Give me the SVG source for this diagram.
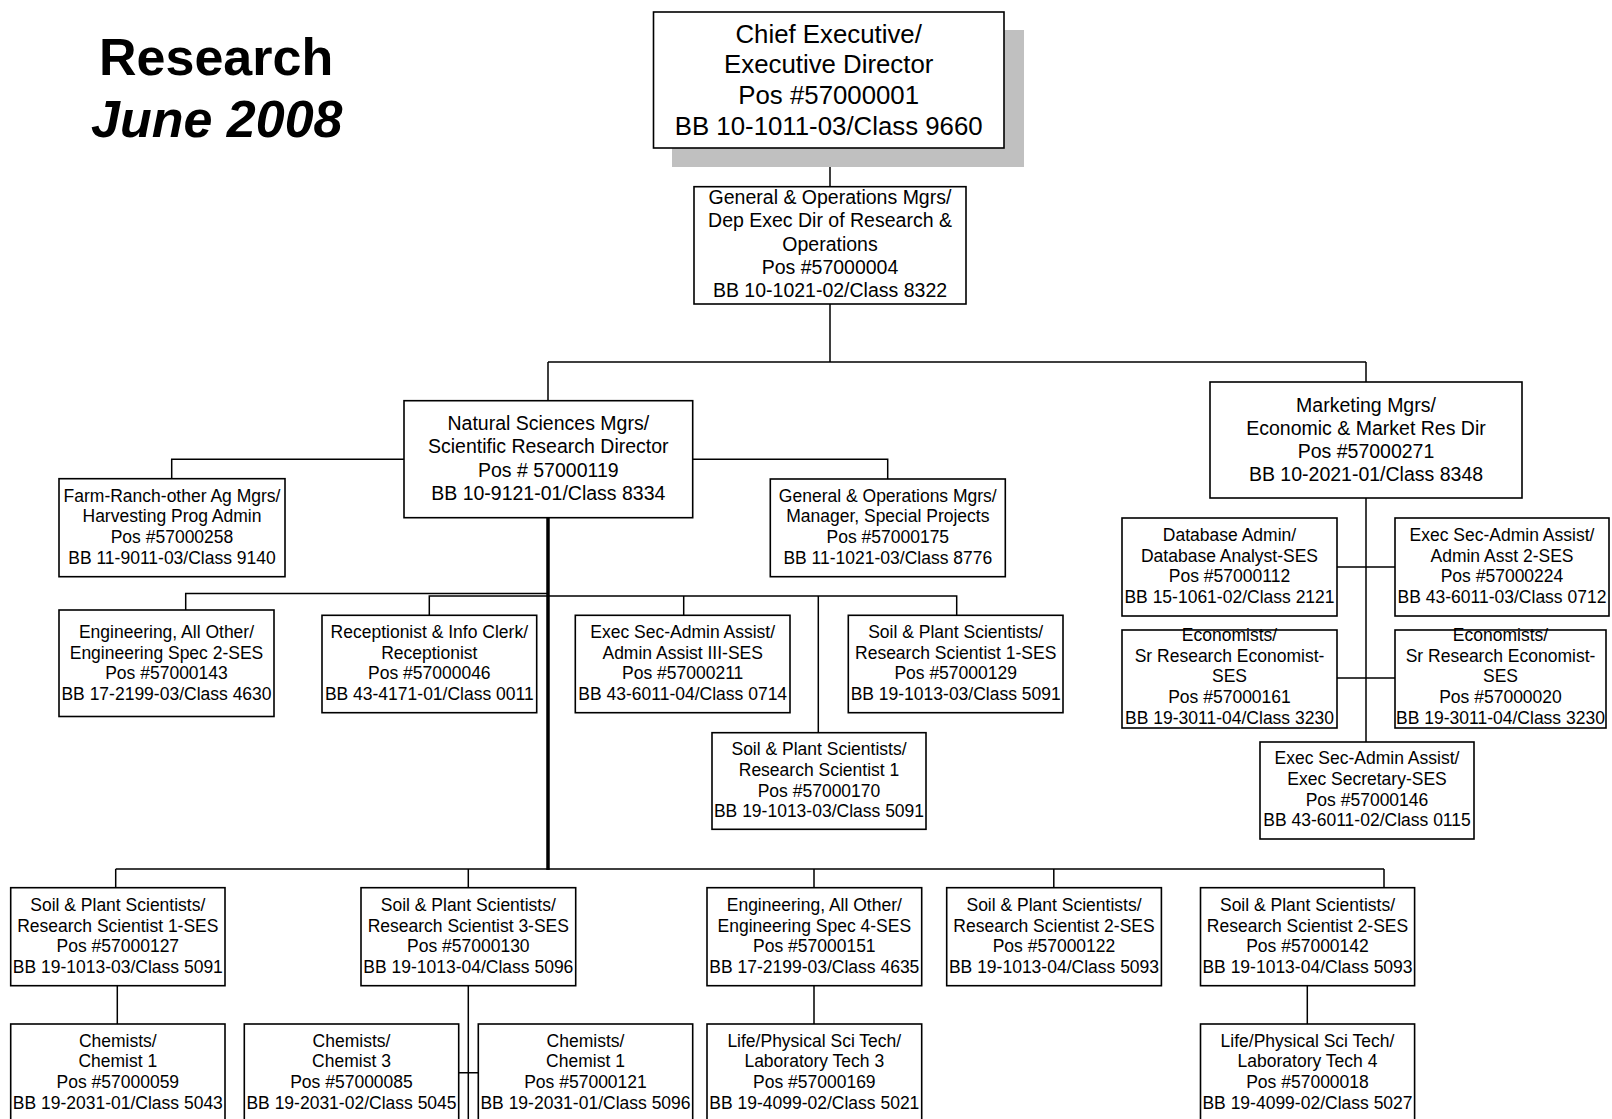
<svg xmlns="http://www.w3.org/2000/svg" width="1612" height="1119" viewBox="0 0 1612 1119">
<style>
.bg{fill:#fff}
.b{fill:#fff;stroke:#000;stroke-width:1.6}
.sh{fill:#c0c0c0}
text{font-family:"Liberation Sans",Arial,sans-serif;fill:#000;text-anchor:middle}
.s{font-size:17.5px}
.m{font-size:19.5px}
.l{font-size:25.8px}
.title{font-size:52px;font-weight:bold;text-anchor:start}
.c{stroke:#000;stroke-width:1.5;fill:none}
.k{stroke:#000;stroke-width:3.5;fill:none}
</style>
<rect class="bg" x="0" y="0" width="1612" height="1119"/>
<g id="title">
<text class="title" x="99" y="74.5">Research</text>
<text class="title" x="91" y="137" font-style="italic">June 2008</text>
</g>
<g id="connectors">
<path class="c" d="M830 148V186.7M830 304V362M548 362H1366M548 362V400.7M1366 362V382"/>
<path class="c" d="M404 459.3H171.7V478.7M692.7 459.3H887.7V479"/>
<path class="k" d="M548 517.7V870"/>
<path class="c" d="M548 593.5H185.7V610M548 596H429.3V615.3M548 596H956.7V615.3M683.7 596V615.3M818.3 596V732.7"/>
<path class="c" d="M1366 498V742M1337 567H1395M1337 678H1395"/>
<path class="c" d="M115.7 869H1384M115.7 869V887.7M468.3 869V887.7M814 869V887.7M1053.8 869V887.7M1384 869V887.7"/>
<path class="c" d="M117.3 985.7V1024M468.3 985.7V1119M458.7 1072.7H478.3M814 985.7V1024M1307.3 985.7V1024"/>
</g>
<g id="chief">
<rect class="sh" x="672" y="30" width="352" height="137"/>
<rect class="b" x="653.5" y="12" width="350.5" height="136"/>
<text class="l" x="828.7" y="42.5">Chief Executive/</text>
<text class="l" x="828.7" y="73.3">Executive Director</text>
<text class="l" x="828.7" y="104.1">Pos #57000001</text>
<text class="l" x="828.7" y="134.9">BB 10-1011-03/Class 9660</text>
</g>
<g id="depexec">
<rect class="b" x="694" y="186.7" width="272" height="117.3"/>
<text class="m" x="830" y="204">General &amp; Operations Mgrs/</text>
<text class="m" x="830" y="227.3">Dep Exec Dir of Research &amp;</text>
<text class="m" x="830" y="250.6">Operations</text>
<text class="m" x="830" y="273.9">Pos #57000004</text>
<text class="m" x="830" y="297.2">BB 10-1021-02/Class 8322</text>
</g>
<g id="natsci">
<rect class="b" x="404" y="400.7" width="288.7" height="117"/>
<text class="m" x="548.3" y="430">Natural Sciences Mgrs/</text>
<text class="m" x="548.3" y="453.3">Scientific Research Director</text>
<text class="m" x="548.3" y="476.7">Pos # 57000119</text>
<text class="m" x="548.3" y="499.7">BB 10-9121-01/Class 8334</text>
</g>
<g id="marketing">
<rect class="b" x="1210" y="382" width="312" height="116"/>
<text class="m" x="1366" y="411.5">Marketing Mgrs/</text>
<text class="m" x="1366" y="434.5">Economic &amp; Market Res Dir</text>
<text class="m" x="1366" y="457.5">Pos #57000271</text>
<text class="m" x="1366" y="480.5">BB 10-2021-01/Class 8348</text>
</g>
<g id="farm">
<rect class="b" x="59" y="478.7" width="226" height="98"/>
<text class="s" x="172" y="501.7">Farm-Ranch-other Ag Mgrs/</text>
<text class="s" x="172" y="522.4">Harvesting Prog Admin</text>
<text class="s" x="172" y="543.1">Pos #57000258</text>
<text class="s" x="172" y="563.8">BB 11-9011-03/Class 9140</text>
</g>
<g id="genops">
<rect class="b" x="770.3" y="479" width="235" height="97.7"/>
<text class="s" x="887.8" y="501.7">General &amp; Operations Mgrs/</text>
<text class="s" x="887.8" y="522.4">Manager, Special Projects</text>
<text class="s" x="887.8" y="543.1">Pos #57000175</text>
<text class="s" x="887.8" y="563.8">BB 11-1021-03/Class 8776</text>
</g>
<g id="eng143">
<rect class="b" x="59" y="610" width="215" height="106.5"/>
<text class="s" x="166.5" y="637.8">Engineering, All Other/</text>
<text class="s" x="166.5" y="658.5">Engineering Spec 2-SES</text>
<text class="s" x="166.5" y="679.2">Pos #57000143</text>
<text class="s" x="166.5" y="699.9">BB 17-2199-03/Class 4630</text>
</g>
<g id="recep">
<rect class="b" x="322" y="615.3" width="214.7" height="97.4"/>
<text class="s" x="429.3" y="637.8">Receptionist &amp; Info Clerk/</text>
<text class="s" x="429.3" y="658.5">Receptionist</text>
<text class="s" x="429.3" y="679.2">Pos #57000046</text>
<text class="s" x="429.3" y="699.9">BB 43-4171-01/Class 0011</text>
</g>
<g id="execsec211">
<rect class="b" x="575.3" y="615.3" width="214.7" height="97.4"/>
<text class="s" x="682.7" y="637.8">Exec Sec-Admin Assist/</text>
<text class="s" x="682.7" y="658.5">Admin Assist III-SES</text>
<text class="s" x="682.7" y="679.2">Pos #57000211</text>
<text class="s" x="682.7" y="699.9">BB 43-6011-04/Class 0714</text>
</g>
<g id="soil129">
<rect class="b" x="848.3" y="615.3" width="214.7" height="97.4"/>
<text class="s" x="955.7" y="637.8">Soil &amp; Plant Scientists/</text>
<text class="s" x="955.7" y="658.5">Research Scientist 1-SES</text>
<text class="s" x="955.7" y="679.2">Pos #57000129</text>
<text class="s" x="955.7" y="699.9">BB 19-1013-03/Class 5091</text>
</g>
<g id="soil170">
<rect class="b" x="712" y="732.7" width="214" height="96.6"/>
<text class="s" x="819" y="755.2">Soil &amp; Plant Scientists/</text>
<text class="s" x="819" y="775.9">Research Scientist 1</text>
<text class="s" x="819" y="796.6">Pos #57000170</text>
<text class="s" x="819" y="817.3">BB 19-1013-03/Class 5091</text>
</g>
<g id="db">
<rect class="b" x="1122" y="518" width="215" height="98"/>
<text class="s" x="1229.5" y="541">Database Admin/</text>
<text class="s" x="1229.5" y="561.7">Database Analyst-SES</text>
<text class="s" x="1229.5" y="582.4">Pos #57000112</text>
<text class="s" x="1229.5" y="603.1">BB 15-1061-02/Class 2121</text>
</g>
<g id="execsec224">
<rect class="b" x="1395" y="518" width="214" height="98"/>
<text class="s" x="1502" y="541">Exec Sec-Admin Assist/</text>
<text class="s" x="1502" y="561.7">Admin Asst 2-SES</text>
<text class="s" x="1502" y="582.4">Pos #57000224</text>
<text class="s" x="1502" y="603.1">BB 43-6011-03/Class 0712</text>
</g>
<g id="econ161">
<rect class="b" x="1122" y="630" width="215" height="98"/>
<text class="s" x="1229.5" y="641">Economists/</text>
<text class="s" x="1229.5" y="661.7">Sr Research Economist-</text>
<text class="s" x="1229.5" y="682.4">SES</text>
<text class="s" x="1229.5" y="703.1">Pos #57000161</text>
<text class="s" x="1229.5" y="723.8">BB 19-3011-04/Class 3230</text>
</g>
<g id="econ020">
<rect class="b" x="1395" y="630" width="211" height="98"/>
<text class="s" x="1500.5" y="641">Economists/</text>
<text class="s" x="1500.5" y="661.7">Sr Research Economist-</text>
<text class="s" x="1500.5" y="682.4">SES</text>
<text class="s" x="1500.5" y="703.1">Pos #57000020</text>
<text class="s" x="1500.5" y="723.8">BB 19-3011-04/Class 3230</text>
</g>
<g id="execsec146">
<rect class="b" x="1260" y="742" width="214" height="97"/>
<text class="s" x="1367" y="764.3">Exec Sec-Admin Assist/</text>
<text class="s" x="1367" y="785">Exec Secretary-SES</text>
<text class="s" x="1367" y="805.7">Pos #57000146</text>
<text class="s" x="1367" y="826.4">BB 43-6011-02/Class 0115</text>
</g>
<g id="soil127">
<rect class="b" x="10.7" y="887.7" width="214.3" height="98"/>
<text class="s" x="117.8" y="911">Soil &amp; Plant Scientists/</text>
<text class="s" x="117.8" y="931.7">Research Scientist 1-SES</text>
<text class="s" x="117.8" y="952.4">Pos #57000127</text>
<text class="s" x="117.8" y="973.1">BB 19-1013-03/Class 5091</text>
</g>
<g id="soil130">
<rect class="b" x="361" y="887.7" width="214.7" height="98"/>
<text class="s" x="468.3" y="911">Soil &amp; Plant Scientists/</text>
<text class="s" x="468.3" y="931.7">Research Scientist 3-SES</text>
<text class="s" x="468.3" y="952.4">Pos #57000130</text>
<text class="s" x="468.3" y="973.1">BB 19-1013-04/Class 5096</text>
</g>
<g id="eng151">
<rect class="b" x="707" y="887.7" width="214.7" height="98"/>
<text class="s" x="814.3" y="911">Engineering, All Other/</text>
<text class="s" x="814.3" y="931.7">Engineering Spec 4-SES</text>
<text class="s" x="814.3" y="952.4">Pos #57000151</text>
<text class="s" x="814.3" y="973.1">BB 17-2199-03/Class 4635</text>
</g>
<g id="soil122">
<rect class="b" x="946.7" y="887.7" width="214.7" height="98"/>
<text class="s" x="1054" y="911">Soil &amp; Plant Scientists/</text>
<text class="s" x="1054" y="931.7">Research Scientist 2-SES</text>
<text class="s" x="1054" y="952.4">Pos #57000122</text>
<text class="s" x="1054" y="973.1">BB 19-1013-04/Class 5093</text>
</g>
<g id="soil142">
<rect class="b" x="1200.5" y="887.7" width="214.1" height="98"/>
<text class="s" x="1307.5" y="911">Soil &amp; Plant Scientists/</text>
<text class="s" x="1307.5" y="931.7">Research Scientist 2-SES</text>
<text class="s" x="1307.5" y="952.4">Pos #57000142</text>
<text class="s" x="1307.5" y="973.1">BB 19-1013-04/Class 5093</text>
</g>
<g id="chem059">
<rect class="b" x="10.7" y="1024" width="214.3" height="120"/>
<text class="s" x="117.8" y="1046.7">Chemists/</text>
<text class="s" x="117.8" y="1067.4">Chemist 1</text>
<text class="s" x="117.8" y="1088.1">Pos #57000059</text>
<text class="s" x="117.8" y="1108.8">BB 19-2031-01/Class 5043</text>
</g>
<g id="chem085">
<rect class="b" x="244.3" y="1024" width="214.4" height="120"/>
<text class="s" x="351.5" y="1046.7">Chemists/</text>
<text class="s" x="351.5" y="1067.4">Chemist 3</text>
<text class="s" x="351.5" y="1088.1">Pos #57000085</text>
<text class="s" x="351.5" y="1108.8">BB 19-2031-02/Class 5045</text>
</g>
<g id="chem121">
<rect class="b" x="478.3" y="1024" width="214.4" height="120"/>
<text class="s" x="585.5" y="1046.7">Chemists/</text>
<text class="s" x="585.5" y="1067.4">Chemist 1</text>
<text class="s" x="585.5" y="1088.1">Pos #57000121</text>
<text class="s" x="585.5" y="1108.8">BB 19-2031-01/Class 5096</text>
</g>
<g id="life169">
<rect class="b" x="707" y="1024" width="214.7" height="120"/>
<text class="s" x="814.3" y="1046.7">Life/Physical Sci Tech/</text>
<text class="s" x="814.3" y="1067.4">Laboratory Tech 3</text>
<text class="s" x="814.3" y="1088.1">Pos #57000169</text>
<text class="s" x="814.3" y="1108.8">BB 19-4099-02/Class 5021</text>
</g>
<g id="life018">
<rect class="b" x="1200.5" y="1024" width="214.1" height="120"/>
<text class="s" x="1307.5" y="1046.7">Life/Physical Sci Tech/</text>
<text class="s" x="1307.5" y="1067.4">Laboratory Tech 4</text>
<text class="s" x="1307.5" y="1088.1">Pos #57000018</text>
<text class="s" x="1307.5" y="1108.8">BB 19-4099-02/Class 5027</text>
</g>
</svg>
